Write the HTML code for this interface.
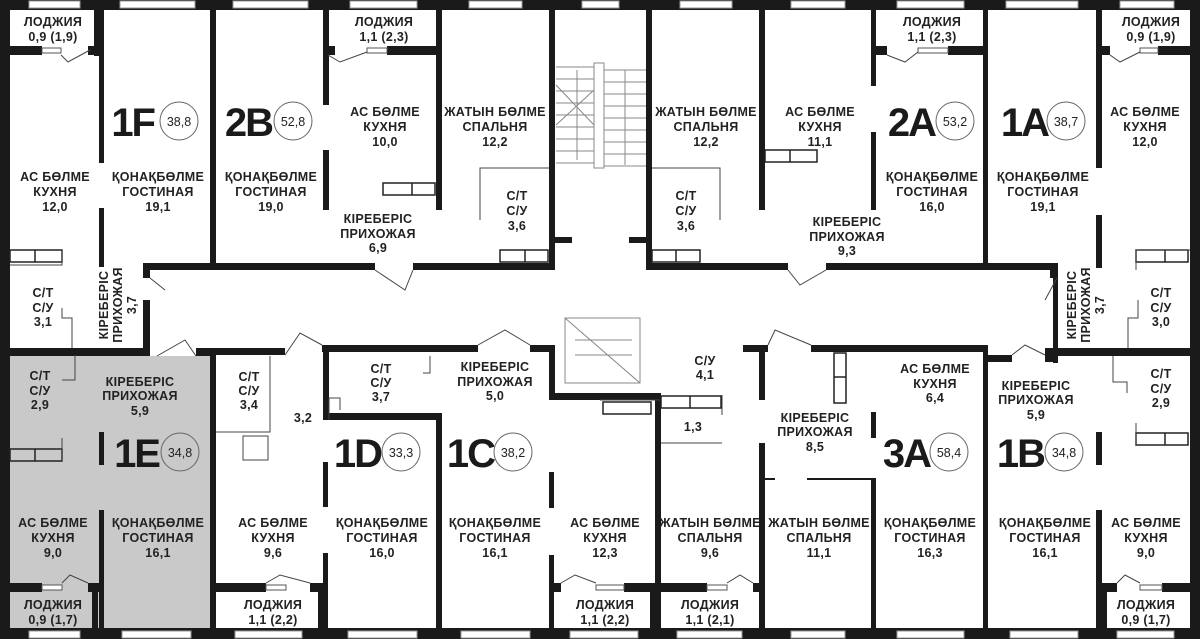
<!DOCTYPE html>
<html><head><meta charset="utf-8"><style>
html,body{margin:0;padding:0;background:#fff}
svg{display:block}
text{font-family:"Liberation Sans",sans-serif;font-weight:bold;fill:#222;text-anchor:middle}
.t{font-size:12.5px;letter-spacing:0.3px}
.b{font-size:40px;letter-spacing:-2px;fill:#1a1a1a;text-anchor:end}
.c{font-size:12.5px;font-weight:normal}
.w{fill:#1a1a1a}
.l{stroke:#1a1a1a;stroke-width:2;fill:none}
.d{stroke:#444;stroke-width:1;fill:none}
</style></head><body>
<svg width="1200" height="639" viewBox="0 0 1200 639" xmlns="http://www.w3.org/2000/svg">
<rect width="1200" height="639" fill="#fff"/>
<rect x="10" y="356" width="200" height="272" fill="#c9c9c9"/>

<!-- outer walls -->
<rect class="w" x="0" y="0" width="1200" height="10"/>
<rect class="w" x="0" y="628" width="1200" height="11"/>
<rect class="w" x="0" y="0" width="10" height="639"/>
<rect class="w" x="1190" y="0" width="10" height="639"/>

<g fill="#fff" stroke="#999" stroke-width="1">
<rect x="29" y="1" width="51" height="7"/><rect x="120" y="1" width="75" height="7"/><rect x="233" y="1" width="75" height="7"/>
<rect x="350" y="1" width="67" height="7"/><rect x="469" y="1" width="53" height="7"/><rect x="582" y="1" width="37" height="7"/>
<rect x="680" y="1" width="52" height="7"/><rect x="791" y="1" width="54" height="7"/><rect x="897" y="1" width="67" height="7"/>
<rect x="1006" y="1" width="72" height="7"/><rect x="1120" y="1" width="54" height="7"/>
<rect x="29" y="631" width="51" height="7"/><rect x="122" y="631" width="69" height="7"/><rect x="235" y="631" width="67" height="7"/>
<rect x="348" y="631" width="69" height="7"/><rect x="461" y="631" width="69" height="7"/><rect x="570" y="631" width="68" height="7"/>
<rect x="677" y="631" width="65" height="7"/><rect x="791" y="631" width="54" height="7"/><rect x="897" y="631" width="67" height="7"/>
<rect x="1010" y="631" width="68" height="7"/><rect x="1117" y="631" width="57" height="7"/>
</g>

<!-- TOP HALF WALLS -->
<rect class="w" x="94" y="0" width="10" height="56"/>
<rect class="w" x="10" y="46" width="32" height="9"/>
<rect class="w" x="88" y="46" width="16" height="9"/>
<rect x="42" y="48" width="19" height="5" fill="#fff" stroke="#555"/>
<rect class="w" x="99" y="55" width="5" height="108"/>
<rect class="w" x="99" y="208" width="5" height="59"/>
<rect class="w" x="210" y="0" width="6" height="267"/>
<rect class="w" x="143" y="263" width="232" height="7"/>
<rect class="w" x="413" y="263" width="142" height="7"/>
<rect class="w" x="143" y="263" width="7" height="15"/>
<rect class="w" x="323" y="10" width="6" height="95"/>
<rect class="w" x="323" y="150" width="6" height="60"/>
<rect class="w" x="323" y="46" width="12" height="9"/>
<rect class="w" x="387" y="46" width="51" height="9"/>
<rect x="367" y="48" width="20" height="5" fill="#fff" stroke="#555"/>
<rect class="w" x="436" y="0" width="6" height="210"/>
<rect class="w" x="549" y="0" width="6" height="268"/>
<rect class="w" x="555" y="237" width="17" height="6"/>
<path class="d" d="M480 220V168H549"/>
<rect x="383" y="183" width="52" height="12" fill="none" stroke="#222" stroke-width="1.5"/>
<line x1="412" y1="183" x2="412" y2="195" stroke="#222" stroke-width="1.5"/>
<rect x="500" y="250" width="48" height="12" fill="none" stroke="#222" stroke-width="1.5"/>
<line x1="525" y1="250" x2="525" y2="262" stroke="#222" stroke-width="1.5"/>
<rect x="10" y="250" width="52" height="12" fill="none" stroke="#222" stroke-width="1.5"/>
<line x1="35" y1="250" x2="35" y2="262" stroke="#222" stroke-width="1.5"/>
<path class="d" d="M10 265H62V250"/>
<path class="d" d="M62 308V318H72V348"/>
<g stroke="#888" stroke-width="1" fill="none">
<rect x="594" y="63" width="10" height="105"/>
<path d="M556 67H594M556 79H594M556 91H594M556 103H594M556 115H594M556 127H594M556 139H594M556 151H594M556 163H594"/>
<path d="M604 70H646M604 82H646M604 94H646M604 106H646M604 118H646M604 130H646M604 142H646M604 154H646M604 166H646"/>
<path d="M556 85L594 125M556 125L594 90M577 70V160M625 70V165"/>
</g>
<rect class="w" x="646" y="0" width="6" height="268"/>
<rect class="w" x="629" y="237" width="17" height="6"/>
<rect class="w" x="646" y="263" width="142" height="7"/>
<rect class="w" x="826" y="263" width="231" height="7"/>
<rect class="w" x="1050" y="263" width="7" height="15"/>
<rect class="w" x="759" y="0" width="6" height="210"/>
<rect class="w" x="871" y="10" width="5" height="76"/>
<rect class="w" x="871" y="132" width="5" height="78"/>
<rect class="w" x="871" y="46" width="16" height="9"/>
<rect class="w" x="948" y="46" width="40" height="9"/>
<rect x="918" y="48" width="30" height="5" fill="#fff" stroke="#555"/>
<rect class="w" x="983" y="0" width="5" height="268"/>
<rect class="w" x="1096" y="0" width="6" height="168"/>
<rect class="w" x="1096" y="215" width="6" height="53"/>
<rect class="w" x="1102" y="46" width="8" height="9"/>
<rect class="w" x="1158" y="46" width="32" height="9"/>
<rect x="1140" y="48" width="18" height="5" fill="#fff" stroke="#555"/>
<path class="d" d="M720 220V168H652"/>
<rect x="765" y="150" width="52" height="12" fill="none" stroke="#222" stroke-width="1.5"/>
<line x1="790" y1="150" x2="790" y2="162" stroke="#222" stroke-width="1.5"/>
<rect x="652" y="250" width="48" height="12" fill="none" stroke="#222" stroke-width="1.5"/>
<line x1="676" y1="250" x2="676" y2="262" stroke="#222" stroke-width="1.5"/>
<rect x="1136" y="250" width="52" height="12" fill="none" stroke="#222" stroke-width="1.5"/>
<line x1="1165" y1="250" x2="1165" y2="262" stroke="#222" stroke-width="1.5"/>
<path class="d" d="M1136 270V250H1190"/>
<path class="d" d="M1138 300V318H1128V348"/>
<rect class="w" x="143" y="300" width="7" height="56"/>
<rect class="w" x="1053" y="263" width="5" height="100"/>

<!-- BOTTOM HALF -->
<rect class="w" x="10" y="348" width="140" height="8"/>
<rect class="w" x="196" y="348" width="20" height="8"/>
<rect class="w" x="210" y="348" width="6" height="280"/>
<rect class="w" x="216" y="348" width="69" height="7"/>
<rect class="w" x="322" y="345" width="156" height="7"/>
<rect class="w" x="530" y="345" width="25" height="7"/>
<rect class="w" x="549" y="345" width="6" height="55"/>
<rect class="w" x="549" y="393" width="110" height="7"/>
<rect class="w" x="323" y="345" width="6" height="70"/>
<rect class="w" x="323" y="413" width="119" height="7"/>
<rect class="w" x="436" y="413" width="6" height="215"/>
<rect class="w" x="323" y="462" width="5" height="45"/>
<rect class="w" x="323" y="553" width="5" height="75"/>
<rect class="w" x="549" y="472" width="5" height="36"/>
<rect class="w" x="549" y="555" width="5" height="73"/>
<rect class="w" x="99" y="432" width="5" height="33"/>
<rect class="w" x="99" y="510" width="5" height="118"/>
<rect class="w" x="10" y="583" width="32" height="9"/>
<rect class="w" x="88" y="583" width="16" height="9"/>
<rect x="42" y="585" width="20" height="5" fill="#fff" stroke="#555"/>
<rect class="w" x="92" y="583" width="6" height="45"/>
<rect class="w" x="216" y="583" width="50" height="9"/>
<rect class="w" x="310" y="583" width="18" height="9"/>
<rect x="266" y="585" width="20" height="5" fill="#fff" stroke="#555"/>
<rect class="w" x="318" y="583" width="6" height="45"/>
<rect class="w" x="549" y="583" width="12" height="9"/>
<rect class="w" x="624" y="583" width="37" height="9"/>
<rect x="596" y="585" width="28" height="5" fill="#fff" stroke="#555"/>
<rect class="w" x="650" y="583" width="6" height="45"/>
<path class="d" d="M216 432H270V356M243 436H268V460H243Z"/>
<path class="d" d="M329 420V398H340V410M430 356V373H423M75 355V380H62"/>
<rect x="10" y="449" width="52" height="12" fill="none" stroke="#222" stroke-width="1.5"/>
<line x1="35" y1="449" x2="35" y2="461" stroke="#222" stroke-width="1.5"/>
<path class="d" d="M62 438V461"/>
<g stroke="#888" stroke-width="1" fill="none">
<rect x="565" y="318" width="75" height="65"/>
<path d="M565 318L640 383M575 340H632M575 355H632"/>
</g>
<rect class="w" x="655" y="393" width="6" height="235"/>
<rect class="w" x="661" y="583" width="46" height="9"/>
<rect x="707" y="585" width="20" height="5" fill="#fff" stroke="#555"/>
<rect class="w" x="753" y="583" width="12" height="9"/>
<rect class="w" x="743" y="345" width="25" height="7"/>
<rect class="w" x="811" y="345" width="177" height="7"/>
<rect class="w" x="983" y="345" width="5" height="283"/>
<rect class="w" x="988" y="355" width="24" height="7"/>
<rect class="w" x="1045" y="348" width="12" height="14"/>
<rect class="w" x="1057" y="348" width="133" height="8"/>
<rect class="w" x="759" y="345" width="6" height="55"/>
<rect class="w" x="759" y="443" width="6" height="185"/>
<rect class="w" x="871" y="412" width="5" height="26"/>
<rect class="w" x="871" y="478" width="5" height="150"/>
<path class="l" d="M765 479H775M807 479H876"/>
<path class="d" d="M661 443H722M722 395V415M600 400H661"/>
<rect x="661" y="396" width="60" height="12" fill="none" stroke="#222" stroke-width="1.5"/>
<line x1="690" y1="396" x2="690" y2="408" stroke="#222" stroke-width="1.5"/>
<rect x="834" y="353" width="12" height="50" fill="none" stroke="#222" stroke-width="1.5"/>
<line x1="834" y1="377" x2="846" y2="377" stroke="#222" stroke-width="1.5"/>
<rect x="603" y="402" width="48" height="12" fill="none" stroke="#222" stroke-width="1.5"/>
<rect class="w" x="1096" y="432" width="6" height="33"/>
<rect class="w" x="1096" y="510" width="6" height="118"/>
<rect class="w" x="1101" y="583" width="16" height="9"/>
<rect class="w" x="1162" y="583" width="28" height="9"/>
<rect x="1140" y="585" width="22" height="5" fill="#fff" stroke="#555"/>
<rect class="w" x="1101" y="583" width="6" height="45"/>
<rect x="1136" y="433" width="52" height="12" fill="none" stroke="#222" stroke-width="1.5"/>
<line x1="1165" y1="433" x2="1165" y2="445" stroke="#222" stroke-width="1.5"/>
<path class="d" d="M1136 423V445M1113 356V382H1127V393"/>

<g class="d">
<path d="M61 55L68 62L90 50M375 270L405 290L413 270M150 278L165 290M157 356L185 340L196 356M285 355L300 333L322 345M478 345L505 330L530 345M768 345L775 330L811 345M788 270L800 285L826 270M1012 355L1025 345L1045 355M1057 278L1045 300M328 55L340 62L367 52M887 55L905 62L918 52M1110 55L1120 62L1140 52M62 583L70 575L88 583M266 583L280 575L310 583M561 583L575 575L596 583M727 583L740 575L753 583M1117 583L1125 575L1140 583"/>
</g>

<g fill="none" stroke="#666" stroke-width="1">
<circle cx="179" cy="121" r="19"/><circle cx="293" cy="121" r="19"/><circle cx="955" cy="121" r="19"/><circle cx="1066" cy="121" r="19"/>
<circle cx="180" cy="452" r="19"/><circle cx="401" cy="452" r="19"/><circle cx="513" cy="452" r="19"/><circle cx="949" cy="452" r="19"/><circle cx="1064" cy="452" r="19"/>
</g>
<text class="b" x="154" y="136">1F</text><text class="c" x="179" y="126">38,8</text>
<text class="b" x="272" y="136">2B</text><text class="c" x="293" y="126">52,8</text>
<text class="b" x="935" y="136">2A</text><text class="c" x="955" y="126">53,2</text>
<text class="b" x="1048" y="136">1A</text><text class="c" x="1066" y="126">38,7</text>
<text class="b" x="159" y="467">1E</text><text class="c" x="180" y="457">34,8</text>
<text class="b" x="381" y="467">1D</text><text class="c" x="401" y="457">33,3</text>
<text class="b" x="494" y="467">1C</text><text class="c" x="513" y="457">38,2</text>
<text class="b" x="930" y="467">3A</text><text class="c" x="949" y="457">58,4</text>
<text class="b" x="1044" y="467">1B</text><text class="c" x="1064" y="457">34,8</text>

<g class="t">
<text x="53" y="26">ЛОДЖИЯ</text><text x="53" y="41">0,9 (1,9)</text>
<text x="384" y="26">ЛОДЖИЯ</text><text x="384" y="41">1,1 (2,3)</text>
<text x="932" y="26">ЛОДЖИЯ</text><text x="932" y="41">1,1 (2,3)</text>
<text x="1151" y="26">ЛОДЖИЯ</text><text x="1151" y="41">0,9 (1,9)</text>

<text x="385" y="116">АС БӨЛМЕ</text><text x="385" y="131">КУХНЯ</text><text x="385" y="146">10,0</text>
<text x="495" y="116">ЖАТЫН БӨЛМЕ</text><text x="495" y="131">СПАЛЬНЯ</text><text x="495" y="146">12,2</text>
<text x="706" y="116">ЖАТЫН БӨЛМЕ</text><text x="706" y="131">СПАЛЬНЯ</text><text x="706" y="146">12,2</text>
<text x="820" y="116">АС БӨЛМЕ</text><text x="820" y="131">КУХНЯ</text><text x="820" y="146">11,1</text>
<text x="1145" y="116">АС БӨЛМЕ</text><text x="1145" y="131">КУХНЯ</text><text x="1145" y="146">12,0</text>

<text x="55" y="181">АС БӨЛМЕ</text><text x="55" y="196">КУХНЯ</text><text x="55" y="211">12,0</text>
<text x="158" y="181">ҚОНАҚБӨЛМЕ</text><text x="158" y="196">ГОСТИНАЯ</text><text x="158" y="211">19,1</text>
<text x="271" y="181">ҚОНАҚБӨЛМЕ</text><text x="271" y="196">ГОСТИНАЯ</text><text x="271" y="211">19,0</text>
<text x="932" y="181">ҚОНАҚБӨЛМЕ</text><text x="932" y="196">ГОСТИНАЯ</text><text x="932" y="211">16,0</text>
<text x="1043" y="181">ҚОНАҚБӨЛМЕ</text><text x="1043" y="196">ГОСТИНАЯ</text><text x="1043" y="211">19,1</text>

<text x="378" y="223">КІРЕБЕРІС</text><text x="378" y="238">ПРИХОЖАЯ</text><text x="378" y="252">6,9</text>
<text x="847" y="226">КІРЕБЕРІС</text><text x="847" y="241">ПРИХОЖАЯ</text><text x="847" y="255">9,3</text>
<text x="517" y="200">С/Т</text><text x="517" y="215">С/У</text><text x="517" y="230">3,6</text>
<text x="686" y="200">С/Т</text><text x="686" y="215">С/У</text><text x="686" y="230">3,6</text>
<text x="43" y="297">С/Т</text><text x="43" y="312">С/У</text><text x="43" y="326">3,1</text>
<text x="1161" y="297">С/Т</text><text x="1161" y="312">С/У</text><text x="1161" y="326">3,0</text>
<g transform="translate(108,305) rotate(-90)"><text x="0" y="0">КІРЕБЕРІС</text><text x="0" y="14">ПРИХОЖАЯ</text><text x="0" y="28">3,7</text></g>
<g transform="translate(1076,305) rotate(-90)"><text x="0" y="0">КІРЕБЕРІС</text><text x="0" y="14">ПРИХОЖАЯ</text><text x="0" y="28">3,7</text></g>

<text x="40" y="380">С/Т</text><text x="40" y="395">С/У</text><text x="40" y="409">2,9</text>
<text x="140" y="386">КІРЕБЕРІС</text><text x="140" y="400">ПРИХОЖАЯ</text><text x="140" y="415">5,9</text>
<text x="249" y="381">С/Т</text><text x="249" y="395">С/У</text><text x="249" y="409">3,4</text>
<text x="303" y="422">3,2</text>
<text x="381" y="373">С/Т</text><text x="381" y="387">С/У</text><text x="381" y="401">3,7</text>
<text x="495" y="371">КІРЕБЕРІС</text><text x="495" y="386">ПРИХОЖАЯ</text><text x="495" y="400">5,0</text>
<text x="705" y="365">С/У</text><text x="705" y="379">4,1</text>
<text x="693" y="431">1,3</text>
<text x="815" y="422">КІРЕБЕРІС</text><text x="815" y="436">ПРИХОЖАЯ</text><text x="815" y="451">8,5</text>
<text x="935" y="373">АС БӨЛМЕ</text><text x="935" y="388">КУХНЯ</text><text x="935" y="402">6,4</text>
<text x="1036" y="390">КІРЕБЕРІС</text><text x="1036" y="404">ПРИХОЖАЯ</text><text x="1036" y="419">5,9</text>
<text x="1161" y="378">С/Т</text><text x="1161" y="393">С/У</text><text x="1161" y="407">2,9</text>

<text x="53" y="527">АС БӨЛМЕ</text><text x="53" y="542">КУХНЯ</text><text x="53" y="557">9,0</text>
<text x="158" y="527">ҚОНАҚБӨЛМЕ</text><text x="158" y="542">ГОСТИНАЯ</text><text x="158" y="557">16,1</text>
<text x="273" y="527">АС БӨЛМЕ</text><text x="273" y="542">КУХНЯ</text><text x="273" y="557">9,6</text>
<text x="382" y="527">ҚОНАҚБӨЛМЕ</text><text x="382" y="542">ГОСТИНАЯ</text><text x="382" y="557">16,0</text>
<text x="495" y="527">ҚОНАҚБӨЛМЕ</text><text x="495" y="542">ГОСТИНАЯ</text><text x="495" y="557">16,1</text>
<text x="605" y="527">АС БӨЛМЕ</text><text x="605" y="542">КУХНЯ</text><text x="605" y="557">12,3</text>
<text x="710" y="527">ЖАТЫН БӨЛМЕ</text><text x="710" y="542">СПАЛЬНЯ</text><text x="710" y="557">9,6</text>
<text x="819" y="527">ЖАТЫН БӨЛМЕ</text><text x="819" y="542">СПАЛЬНЯ</text><text x="819" y="557">11,1</text>
<text x="930" y="527">ҚОНАҚБӨЛМЕ</text><text x="930" y="542">ГОСТИНАЯ</text><text x="930" y="557">16,3</text>
<text x="1045" y="527">ҚОНАҚБӨЛМЕ</text><text x="1045" y="542">ГОСТИНАЯ</text><text x="1045" y="557">16,1</text>
<text x="1146" y="527">АС БӨЛМЕ</text><text x="1146" y="542">КУХНЯ</text><text x="1146" y="557">9,0</text>

<text x="53" y="609">ЛОДЖИЯ</text><text x="53" y="624">0,9 (1,7)</text>
<text x="273" y="609">ЛОДЖИЯ</text><text x="273" y="624">1,1 (2,2)</text>
<text x="605" y="609">ЛОДЖИЯ</text><text x="605" y="624">1,1 (2,2)</text>
<text x="710" y="609">ЛОДЖИЯ</text><text x="710" y="624">1,1 (2,1)</text>
<text x="1146" y="609">ЛОДЖИЯ</text><text x="1146" y="624">0,9 (1,7)</text>
</g>
</svg>
</body></html>
